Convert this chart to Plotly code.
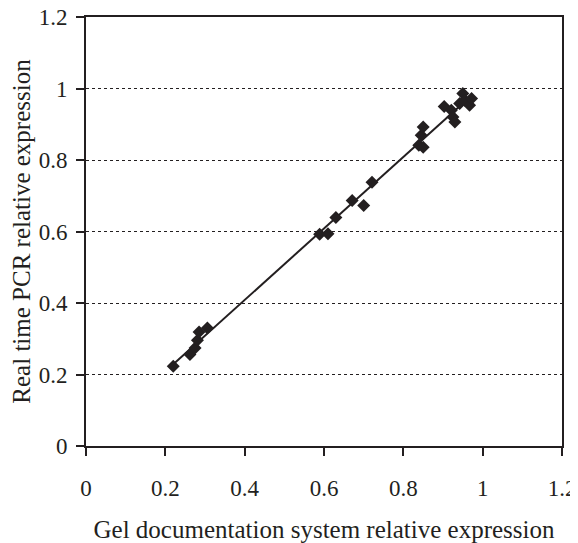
import numpy as np
import plotly.graph_objects as go

gel_x = [0.220, 0.262, 0.275, 0.281, 0.285, 0.306,
         0.589, 0.610, 0.630, 0.671, 0.700, 0.721,
         0.839, 0.850, 0.845, 0.850, 0.903, 0.921, 0.925, 0.930,
         0.942, 0.950, 0.955, 0.967, 0.972]
pcr_y = [0.223, 0.256, 0.274, 0.296, 0.319, 0.330,
         0.592, 0.594, 0.639, 0.687, 0.673, 0.738,
         0.841, 0.836, 0.869, 0.892, 0.950, 0.939, 0.920, 0.906,
         0.958, 0.986, 0.967, 0.953, 0.972]

tick_vals = [0, 0.2, 0.4, 0.6, 0.8, 1.0, 1.2]
tick_text = ["0", "0.2", "0.4", "0.6", "0.8", "1", "1.2"]

slope, intercept = np.polyfit(gel_x, pcr_y, 1)
fit_x = [min(gel_x), max(gel_x)]
fit_y = [slope * v + intercept for v in fit_x]

ink = "#231f20"
font = "Liberation Serif, Times New Roman, serif"

fig = go.Figure()
fig.add_trace(go.Scatter(x=fit_x, y=fit_y, mode="lines",
                         line=dict(color=ink, width=2), showlegend=False,
                         hoverinfo="skip"))
fig.add_trace(go.Scatter(x=gel_x, y=pcr_y, mode="markers",
                         marker=dict(symbol="diamond", size=10, color=ink,
                                     line=dict(width=0)),
                         showlegend=False))

fig.update_layout(
    width=570, height=535,
    margin=dict(l=78, r=16, t=9, b=97),
    paper_bgcolor="white", plot_bgcolor="white",
    font=dict(family=font, size=23, color=ink),
    xaxis=dict(range=[0, 1.2], tickvals=tick_vals, ticktext=tick_text,
               showgrid=False, zeroline=False, automargin=False,
               showline=True, linecolor=ink, linewidth=2, mirror=True,
               ticks="outside", ticklen=8, tickwidth=2, tickcolor=ink,
               ticklabelstandoff=12, ticklabeloverflow="allow",
               title=dict(text="Gel documentation system relative expression",
                          standoff=21, font=dict(size=25))),
    yaxis=dict(range=[0, 1.2], tickvals=tick_vals, ticktext=tick_text,
               showgrid=True, gridcolor=ink, gridwidth=1, griddash="dot",
               zeroline=False, automargin=False,
               showline=True, linecolor=ink, linewidth=2, mirror=True,
               ticks="outside", ticklen=8, tickwidth=2, tickcolor=ink,
               ticklabelstandoff=4, ticklabeloverflow="allow",
               title=dict(text="Real time PCR relative expression",
                          standoff=12, font=dict(size=25))),
)

fig.write_html("out.html")
